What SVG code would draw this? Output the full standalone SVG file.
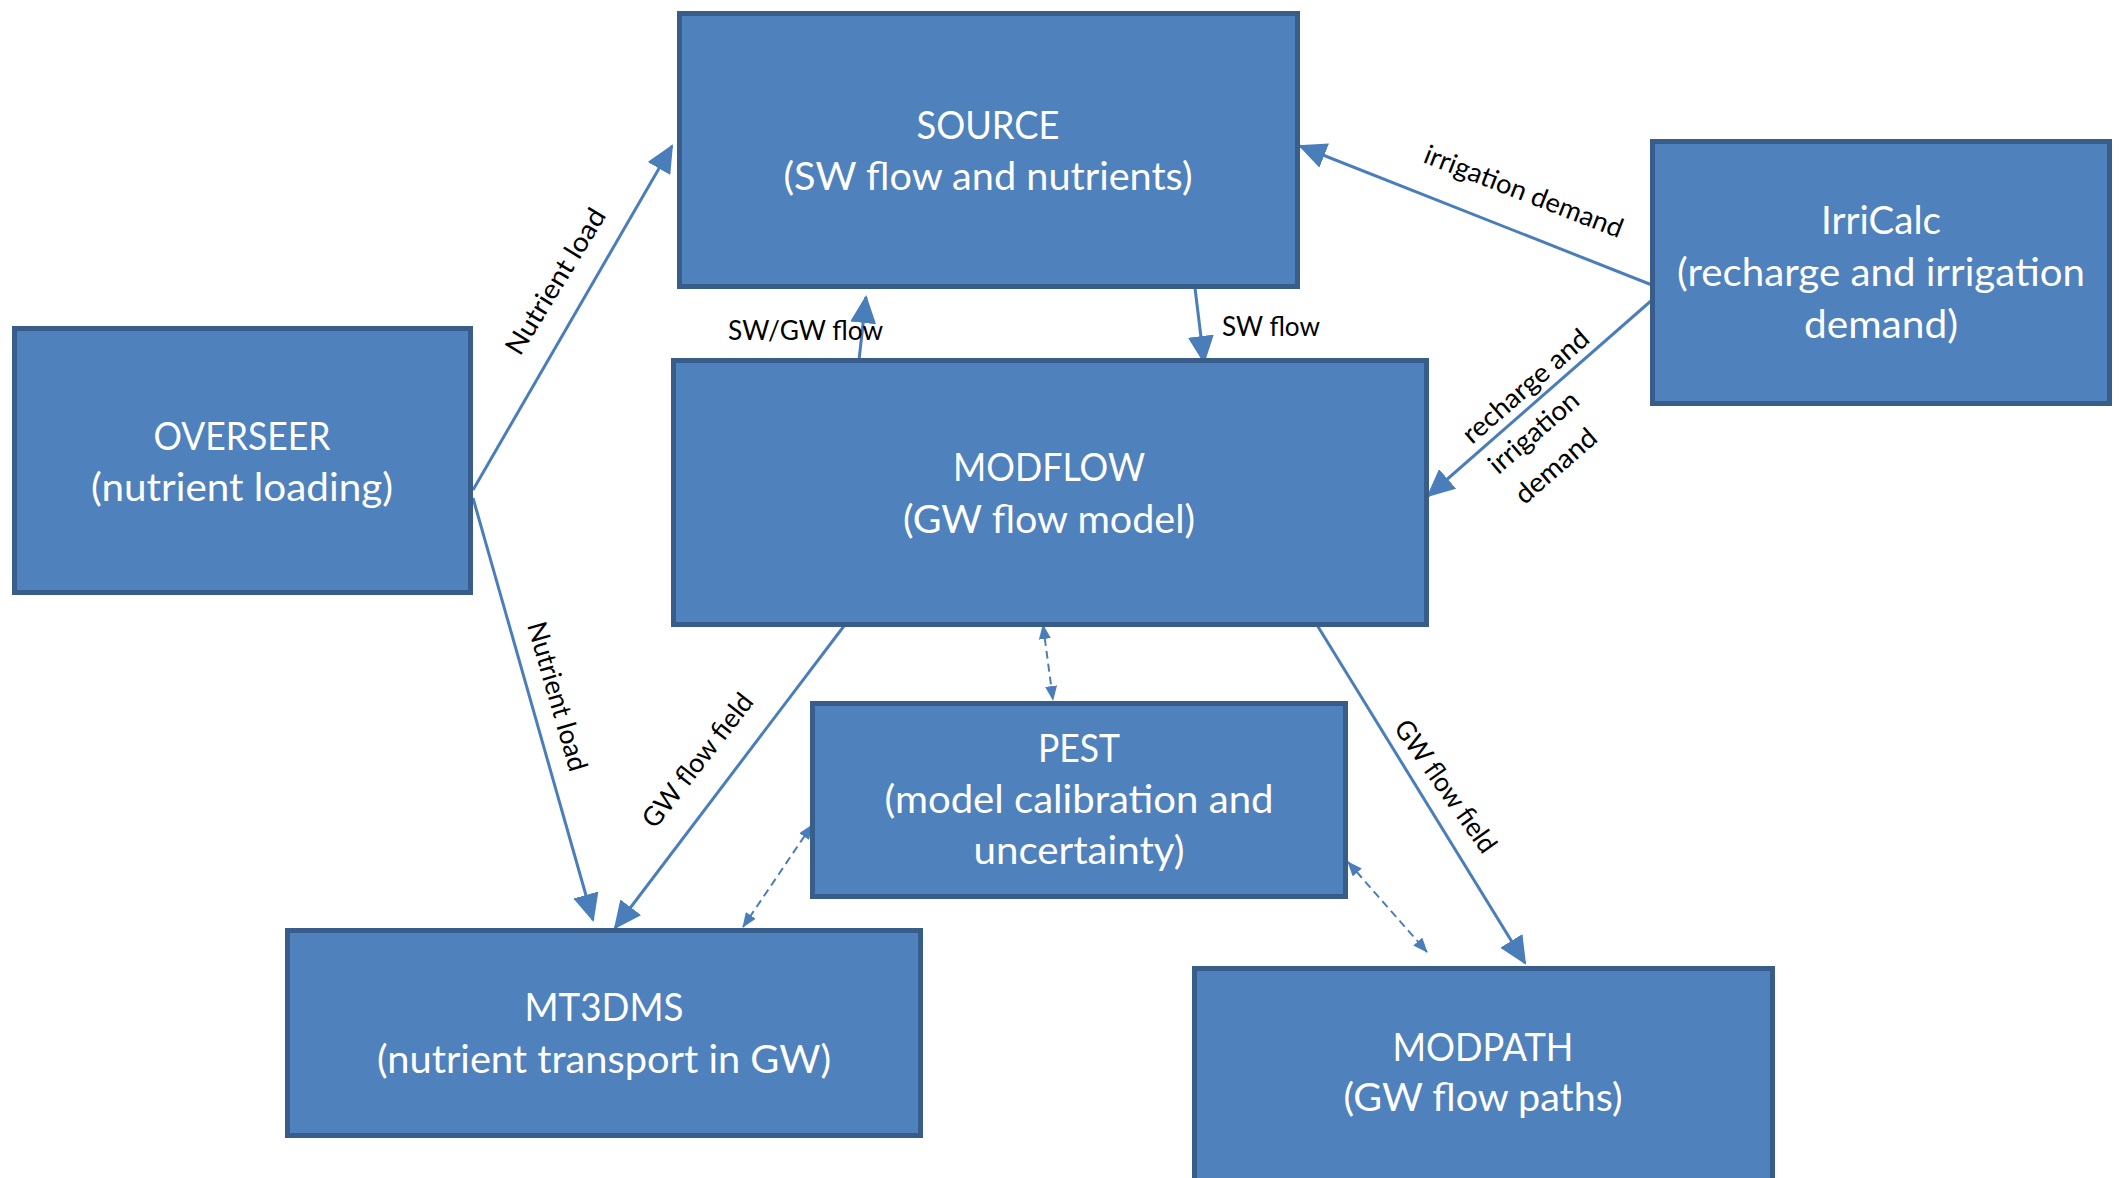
<svg xmlns="http://www.w3.org/2000/svg" width="2121" height="1178" viewBox="0 0 2121 1178">
<defs>
<style>
.box{fill:#4F81BD;stroke:#385D8A;stroke-width:5}
.t{font-family:Lato,"Liberation Sans",sans-serif;font-size:39px;fill:#FFFFFF;text-anchor:middle}
.l{font-family:Lato,"Liberation Sans",sans-serif;font-size:27px;fill:#000000}
.c{stroke:#4A7EBB;stroke-width:3;fill:none;marker-end:url(#ah)}
.d{stroke:#4A7EBB;stroke-width:2;fill:none;stroke-dasharray:8 5;marker-end:url(#sh);marker-start:url(#sh)}
</style>
<marker id="ah" markerUnits="userSpaceOnUse" markerWidth="28" markerHeight="26" refX="26" refY="13" orient="auto" viewBox="0 0 28 26">
<path d="M0,0 L28,13 L0,26 Z" fill="#4A7EBB"/>
</marker>
<marker id="sh" markerUnits="userSpaceOnUse" markerWidth="15" markerHeight="12" refX="14" refY="6" orient="auto-start-reverse" viewBox="0 0 15 12">
<path d="M0,0 L15,6 L0,12 Z" fill="#4A7EBB"/>
</marker>
</defs>
<rect width="2121" height="1178" fill="#FFFFFF"/>
<g id="connectors">
<line class="c" x1="473" y1="490" x2="672" y2="146"/>
<line class="c" x1="473" y1="498" x2="593" y2="920"/>
<line class="c" x1="859" y1="360" x2="866" y2="297"/>
<line class="c" x1="1195" y1="288" x2="1204" y2="362"/>
<line class="c" x1="1652" y1="285" x2="1300" y2="146"/>
<line class="c" x1="1652" y1="300" x2="1428" y2="496"/>
<line class="c" x1="844" y1="626" x2="615" y2="928"/>
<line class="c" x1="1317" y1="625" x2="1525" y2="963"/>
<line class="d" x1="1043" y1="625" x2="1053" y2="700"/>
<line class="d" x1="812" y1="825" x2="743" y2="927"/>
<line class="d" x1="1348" y1="862" x2="1427" y2="952"/>
<text class="l" transform="translate(520,357) rotate(-58.5)" textLength="166" lengthAdjust="spacingAndGlyphs">Nutrient load</text>
<text class="l" transform="translate(527,625) rotate(73.8)" textLength="154" lengthAdjust="spacingAndGlyphs">Nutrient load</text>
<text class="l" x="728" y="340" textLength="155" lengthAdjust="spacingAndGlyphs">SW/GW flow</text>
<text class="l" x="1222" y="336" textLength="98" lengthAdjust="spacingAndGlyphs">SW flow</text>
<text class="l" transform="translate(1422,162) rotate(21.2)" textLength="211" lengthAdjust="spacingAndGlyphs">irrigation demand</text>
<g transform="translate(1472,445) rotate(-41)">
<text class="l" x="0" y="0" textLength="158" lengthAdjust="spacingAndGlyphs">recharge and</text>
<text class="l" x="0" y="40" textLength="110" lengthAdjust="spacingAndGlyphs">irrigation</text>
<text class="l" x="0" y="80" textLength="99" lengthAdjust="spacingAndGlyphs">demand</text>
</g>
<text class="l" transform="translate(655,830) rotate(-52)" textLength="162" lengthAdjust="spacingAndGlyphs">GW flow field</text>
<text class="l" transform="translate(1393,728) rotate(54.7)" textLength="156" lengthAdjust="spacingAndGlyphs">GW flow field</text>
</g>
<g id="source">
<rect class="box" x="679.5" y="13.5" width="618" height="273"/>
<text class="t" x="988" y="139" textLength="143" lengthAdjust="spacingAndGlyphs">SOURCE</text>
<text class="t" x="988" y="190" textLength="409" lengthAdjust="spacingAndGlyphs">(SW flow and nutrients)</text>
</g>
<g id="overseer">
<rect class="box" x="14.5" y="328.5" width="456" height="264"/>
<text class="t" x="242" y="450" textLength="177" lengthAdjust="spacingAndGlyphs">OVERSEER</text>
<text class="t" x="242" y="501" textLength="302" lengthAdjust="spacingAndGlyphs">(nutrient loading)</text>
</g>
<g id="modflow">
<rect class="box" x="673.5" y="360.5" width="753" height="264"/>
<text class="t" x="1049" y="481" textLength="192" lengthAdjust="spacingAndGlyphs">MODFLOW</text>
<text class="t" x="1049" y="533" textLength="292" lengthAdjust="spacingAndGlyphs">(GW flow model)</text>
</g>
<g id="irricalc">
<rect class="box" x="1652.5" y="141.5" width="457" height="262"/>
<text class="t" x="1881" y="234" textLength="120" lengthAdjust="spacingAndGlyphs">IrriCalc</text>
<text class="t" x="1881" y="286" textLength="408" lengthAdjust="spacingAndGlyphs">(recharge and irrigation</text>
<text class="t" x="1881" y="338" textLength="154" lengthAdjust="spacingAndGlyphs">demand)</text>
</g>
<g id="pest">
<rect class="box" x="812.5" y="703.5" width="533" height="193"/>
<text class="t" x="1079" y="762" textLength="82" lengthAdjust="spacingAndGlyphs">PEST</text>
<text class="t" x="1079" y="813" textLength="389" lengthAdjust="spacingAndGlyphs">(model calibration and</text>
<text class="t" x="1079" y="864" textLength="211" lengthAdjust="spacingAndGlyphs">uncertainty)</text>
</g>
<g id="mt3dms">
<rect class="box" x="287.5" y="930.5" width="633" height="205"/>
<text class="t" x="604" y="1021" textLength="159" lengthAdjust="spacingAndGlyphs">MT3DMS</text>
<text class="t" x="604" y="1073" textLength="454" lengthAdjust="spacingAndGlyphs">(nutrient transport in GW)</text>
</g>
<g id="modpath">
<rect class="box" x="1194.5" y="968.5" width="578" height="240"/>
<text class="t" x="1483" y="1061" textLength="181" lengthAdjust="spacingAndGlyphs">MODPATH</text>
<text class="t" x="1483" y="1111" textLength="279" lengthAdjust="spacingAndGlyphs">(GW flow paths)</text>
</g>
</svg>
